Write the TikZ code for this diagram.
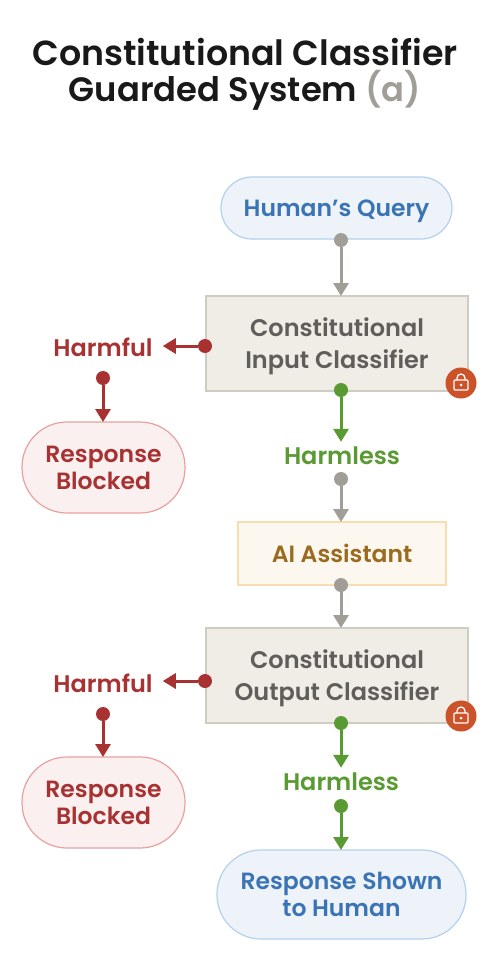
\documentclass[tikz,border=0pt]{standalone}
\usepackage{fontspec}
\setmainfont{Poppins SemiBold}
\usetikzlibrary{arrows.meta}
\definecolor{gryc}{HTML}{A09E96}
\definecolor{redc}{HTML}{A83232}
\definecolor{grnc}{HTML}{5A9A32}
\tikzset{
  x=1pt,y=-1pt,
  pillb/.style={draw=#1,line width=1.2pt,inner sep=0pt,outer sep=0pt,align=center,font=\fontsize{23.5}{27}\selectfont},
  dotn/.style={circle,fill=#1,inner sep=0pt,outer sep=0pt,minimum size=14pt},
  conn/.style={draw=#1,line width=3pt,-{Triangle[length=13pt,width=15pt,fill=#1]}},
  lbl/.style={font=\fontsize{24}{28}\selectfont,inner sep=0pt},
  classbox/.style={draw=clsd,fill=clsf,line width=2pt,minimum width=262pt,minimum height=95pt,inner sep=0pt,outer sep=0pt,align=center,text=clst,font=\fontsize{24}{32}\selectfont},
  lockn/.style={circle,fill=lockc,inner sep=0pt,outer sep=0pt,minimum size=31pt},
}
\definecolor{clsf}{HTML}{F0EDE7}
\definecolor{clsd}{HTML}{CFCCC2}
\definecolor{clst}{HTML}{5F5E5A}
\definecolor{lockc}{HTML}{CC5229}
\definecolor{bluef}{HTML}{EEF3FA}
\definecolor{blued}{HTML}{B5D0EE}
\definecolor{bluet}{HTML}{3B74B5}
\definecolor{redf}{HTML}{FBF0F0}
\definecolor{redd}{HTML}{EBA0A0}
\definecolor{ambf}{HTML}{FDF8EF}
\definecolor{ambd}{HTML}{F8DDAE}
\definecolor{ambt}{HTML}{9C6A1F}
\newcommand{\dn}[1]{\raisebox{-3pt}[\height][\depth]{#1}}
\newcommand{\lockicon}[1]{%
  \draw[white,line width=1.3pt,rounded corners=1pt] ([xshift=-7pt,yshift=-7pt]#1.center) rectangle ([xshift=7pt,yshift=3pt]#1.center);
  \draw[white,line width=1.3pt] ([xshift=-4pt,yshift=3pt]#1.center) -- ([xshift=-4pt,yshift=5pt]#1.center) arc[start angle=180,end angle=0,radius=4pt] -- ([xshift=4pt,yshift=3pt]#1.center);
  \fill[white] ([yshift=-2pt]#1.center) circle[radius=1.5pt];
}
\begin{document}
\begin{tikzpicture}
\useasboundingbox (0,0) rectangle (502,960);
\fill[white] (0,0) rectangle (502,960);
% title
\node[anchor=base,inner sep=0pt,font=\fontsize{34.8}{36}\selectfont,text=black!90] (t1) at (245,66) {Constitutional Classifier};
\node[anchor=base,inner sep=0pt,font=\fontsize{33.8}{36}\selectfont,text=black!90] (t2) at (245,102) {Guarded System \textcolor{gryc}{(a)}};
% main nodes
\node[pillb=blued,fill=bluef,text=bluet,minimum width=231pt,minimum height=62pt,rounded corners=31pt] (query) at (336.5,208) {\dn{Human’s Query}};
\node[classbox] (input) at (337,343.5) {\dn{Constitutional}\\\dn{Input Classifier}};
\node[pillb=ambd,fill=ambf,text=ambt,rounded corners=0pt,minimum width=208pt,minimum height=63pt] (ai) at (342,553.5) {AI Assistant};
\node[classbox] (output) at (337,675.5) {\dn{Constitutional}\\\dn{Output Classifier}};
\node[pillb=blued,fill=bluef,text=bluet,minimum width=249pt,minimum height=89pt,rounded corners=44pt] (shown) at (341.5,894.5) {Response Shown\\to Human};
\node[pillb=redd,fill=redf,text=redc,minimum width=163pt,minimum height=91pt,rounded corners=45pt] (block1) at (103.5,467.5) {Response\\Blocked};
\node[pillb=redd,fill=redf,text=redc,minimum width=163pt,minimum height=91pt,rounded corners=45pt] (block2) at (103.5,802.5) {Response\\Blocked};
% labels
\node[lbl,text=redc] (harm1) at (103,347) {Harmful};
\node[lbl,text=redc] (harm2) at (103,683) {Harmful};
\node[lbl,text=grnc] (ok1) at (342,456) {Harmless};
\node[lbl,text=grnc] (ok2) at (341,782) {Harmless};
% connector start dots
\node[dotn=gryc] (d1) at (341,240) {};
\node[dotn=redc] (d2) at (205,346) {};
\node[dotn=redc] (d3) at (103,378) {};
\node[dotn=grnc] (d4) at (341,390) {};
\node[dotn=gryc] (d5) at (341,479) {};
\node[dotn=gryc] (d6) at (341,585) {};
\node[dotn=redc] (d7) at (205,681) {};
\node[dotn=redc] (d8) at (103,714) {};
\node[dotn=grnc] (d9) at (341,723) {};
\node[dotn=grnc] (d10) at (341,806) {};
% connectors
\draw[conn=gryc] (d1) -- (d1 |- input.north);
\draw[conn=redc] (d2) -- ([xshift=10pt]harm1.east |- d2);
\draw[conn=redc] (d3) -- (d3 |- block1.north);
\draw[conn=grnc] (d4) -- ([yshift=5pt]d4 |- ok1.north);
\draw[conn=gryc] (d5) -- (d5 |- ai.north);
\draw[conn=gryc] (d6) -- (d6 |- output.north);
\draw[conn=redc] (d7) -- ([xshift=10pt]harm2.east |- d7);
\draw[conn=redc] (d8) -- (d8 |- block2.north);
\draw[conn=grnc] (d9) -- ([yshift=5pt]d9 |- ok2.north);
\draw[conn=grnc] (d10) -- (d10 |- shown.north);
% locks
\node[lockn] (lock1) at (461,383) {};
\lockicon{lock1}
\node[lockn] (lock2) at (461,716) {};
\lockicon{lock2}
\end{tikzpicture}
\end{document}
